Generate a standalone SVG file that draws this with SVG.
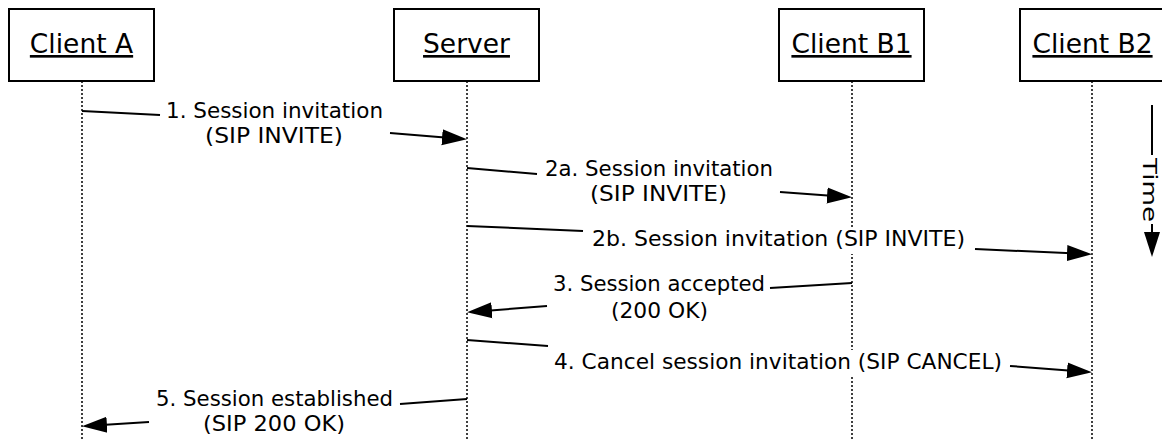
<svg xmlns="http://www.w3.org/2000/svg" width="1162" height="441" viewBox="0 0 1162 441">
<style>
.box{fill:#fff;stroke:#000;stroke-width:2}
.lbl{font-family:"DejaVu Sans","Verdana",sans-serif;font-size:26.5px;fill:#000;text-anchor:middle;text-decoration:underline}
.life{stroke:#000;stroke-width:1.5;stroke-dasharray:2,2;fill:none}
.msg{stroke:#000;stroke-width:2;fill:none}
.arr{marker-end:url(#ah)}
.t{font-family:"DejaVu Sans","Verdana",sans-serif;font-size:21.5px;fill:#000}
.bg{fill:#fff}
</style>
<defs>
<marker id="ah" markerUnits="userSpaceOnUse" markerWidth="26" markerHeight="18" refX="21" refY="8" orient="auto" viewBox="0 0 26 16">
<path d="M0,0 L25,8 L0,16 z" fill="#000"/>
</marker>
</defs>
<rect width="1162" height="441" fill="#fff"/>
<g id="lifelines">
<line class="life" x1="82" y1="81" x2="82" y2="441"/>
<line class="life" x1="467" y1="81" x2="467" y2="441"/>
<line class="life" x1="852" y1="81" x2="852" y2="441"/>
<line class="life" x1="1092" y1="81" x2="1092" y2="441"/>
</g>
<g id="clientA"><rect class="box" x="9" y="9" width="145" height="72"/><text class="lbl" x="81.5" y="53">Client A</text></g>
<g id="server"><rect class="box" x="394" y="9" width="145" height="72"/><text class="lbl" x="466.5" y="53">Server</text></g>
<g id="clientB1"><rect class="box" x="779" y="9" width="145" height="72"/><text class="lbl" x="851.5" y="53">Client B1</text></g>
<g id="clientB2"><rect class="box" x="1020" y="9" width="145" height="72"/><text class="lbl" x="1092.5" y="53">Client B2</text></g>
<g id="connectors">
<path class="msg" d="M82,111 L160,115"/>
<path class="msg arr" d="M390,133 L463,139"/>
<path class="msg" d="M467,168 L537,174"/>
<path class="msg arr" d="M780,192 L848,197"/>
<path class="msg" d="M467,226 L583,231"/>
<path class="msg arr" d="M975,249 L1088,254"/>
<path class="msg" d="M852,283 L770,288"/>
<path class="msg arr" d="M547,306 L471,312"/>
<path class="msg" d="M467,340 L548,346"/>
<path class="msg arr" d="M1010,366 L1088,372"/>
<path class="msg" d="M467,399 L400,404"/>
<path class="msg arr" d="M149,422 L86,426"/>
<path class="msg" d="M1152,105 L1152,155"/>
<path class="msg arr" d="M1152,224 L1152,253"/>
</g>
<g id="labels">
<rect class="bg" x="590" y="228" width="378" height="26"/>
<rect class="bg" x="552" y="350" width="453" height="26"/>
<text class="t" x="166" y="118" textLength="217" lengthAdjust="spacingAndGlyphs">1. Session invitation</text>
<text class="t" x="205" y="143" textLength="138" lengthAdjust="spacingAndGlyphs">(SIP INVITE)</text>
<text class="t" x="545" y="176" textLength="228" lengthAdjust="spacingAndGlyphs">2a. Session invitation</text>
<text class="t" x="590" y="201" textLength="137" lengthAdjust="spacingAndGlyphs">(SIP INVITE)</text>
<text class="t" x="592" y="246" textLength="373" lengthAdjust="spacingAndGlyphs">2b. Session invitation (SIP INVITE)</text>
<text class="t" x="553" y="291" textLength="212" lengthAdjust="spacingAndGlyphs">3. Session accepted</text>
<text class="t" x="611" y="318" textLength="97" lengthAdjust="spacingAndGlyphs">(200 OK)</text>
<text class="t" x="554" y="369" textLength="448" lengthAdjust="spacingAndGlyphs">4. Cancel session invitation (SIP CANCEL)</text>
<text class="t" x="156" y="406" textLength="237" lengthAdjust="spacingAndGlyphs">5. Session established</text>
<text class="t" x="203" y="431" textLength="142" lengthAdjust="spacingAndGlyphs">(SIP 200 OK)</text>
<text class="t" style="font-size:20px" transform="translate(1142.5,158) rotate(90)" x="0" y="0" textLength="64" lengthAdjust="spacingAndGlyphs">Time</text>
</g>
</svg>
